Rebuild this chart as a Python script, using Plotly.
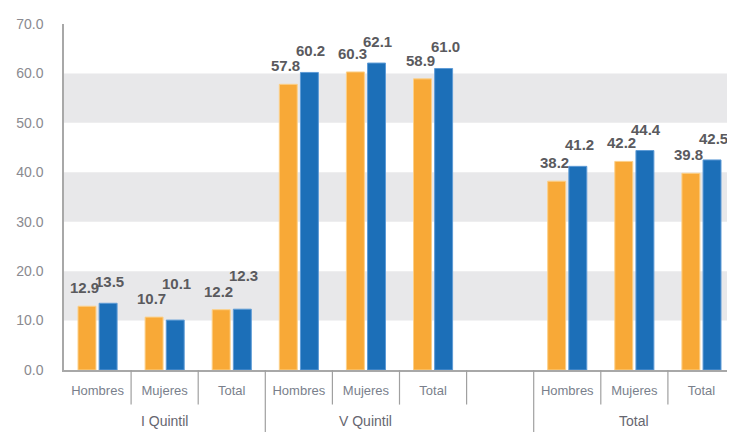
import plotly.graph_objects as go

categories = ["IQ-H", "IQ-M", "IQ-T", "VQ-H", "VQ-M", "VQ-T", "GAP", "T-H", "T-M", "T-T"]
tick_labels = ["Hombres", "Mujeres", "Total", "Hombres", "Mujeres", "Total", "", "Hombres", "Mujeres", "Total"]
groups = ["I Quintil", "V Quintil", "Total"]
group_centers = ["IQ-M", "VQ-M", "T-M"]
series_a = [12.9, 10.7, 12.2, 57.8, 60.3, 58.9, None, 38.2, 42.2, 39.8]
series_b = [13.5, 10.1, 12.3, 60.2, 62.1, 61.0, None, 41.2, 44.4, 42.5]
y_ticks = [0, 10, 20, 30, 40, 50, 60, 70]

ORANGE = "#F8A937"
BLUE = "#1C6FB8"
LABEL = "#5a5a5e"
BODY = 8  # default page margin of the html body

fig = go.Figure()
fig.add_trace(go.Bar(x=categories, y=series_a, marker=dict(color=ORANGE, line=dict(color="#FCD089", width=1)),
                     showlegend=False))
fig.add_trace(go.Bar(x=categories, y=series_b, marker=dict(color=BLUE, line=dict(color="#5E9BD6", width=1)),
                     showlegend=False))

# gray bands
for lo in (10, 30, 50):
    fig.add_shape(type="rect", xref="paper", yref="y", x0=0, x1=1, y0=lo, y1=lo + 10,
                  fillcolor="#E8E8EA", line=dict(width=0), layer="below")

# value labels
lab_font = dict(size=15, color=LABEL, family="Liberation Sans")
for c, a, b in zip(categories, series_a, series_b):
    if a is None:
        continue
    fig.add_annotation(x=c, y=a, text=f"<b>{a:.1f}</b>", showarrow=False, xshift=-13, yshift=8,
                       yanchor="bottom", font=lab_font)
    yb = b if (b - a) >= 0.5 else a + 2.5
    fig.add_annotation(x=c, y=yb, text=f"<b>{b:.1f}</b>", showarrow=False, xshift=12, yshift=11,
                       yanchor="bottom", font=lab_font)

# category separators
short_b = [0.5, 1.5, 3.5, 4.5, 5.5, 7.5, 8.5]
long_b = [2.5, 6.5]
for xb in short_b:
    fig.add_shape(type="line", xref="x", yref="paper", x0=xb, x1=xb, y0=0, y1=-0.1,
                  line=dict(color="#a0a0a0", width=1.2))
for xb in long_b:
    fig.add_shape(type="line", xref="x", yref="paper", x0=xb, x1=xb, y0=0, y1=-0.2,
                  line=dict(color="#a0a0a0", width=1.2))

# group labels
for g, c in zip(groups, group_centers):
    fig.add_annotation(x=c, y=-0.148, xref="x", yref="paper", text=g, showarrow=False,
                       yanchor="middle", font=dict(size=14, color="#666670",
                                                   family="Liberation Sans Narrow, Liberation Sans"))

fig.update_layout(
    width=735, height=432,
    margin=dict(l=63 - BODY, r=BODY, t=20 - BODY, b=62 + BODY),
    plot_bgcolor="white", paper_bgcolor="white",
    barmode="group", bargap=0.37, bargroupgap=0.15,
    font=dict(family="Liberation Sans"),
)
fig.update_xaxes(type="category", categoryorder="array", categoryarray=categories,
                 tickvals=categories, ticktext=tick_labels, range=[-0.5, 9.5],
                 showline=True, linecolor="#a8a8a8", linewidth=1.5, showgrid=False,
                 ticks="outside", ticklen=8, tickcolor="rgba(0,0,0,0)",
                 tickfont=dict(size=13, color="#7a7f8c", family="Liberation Sans Narrow, Liberation Sans"))
fig.update_yaxes(range=[0, 70], tickvals=y_ticks, tickformat=".1f",
                 showline=True, linecolor="#a8a8a8", linewidth=1.5, showgrid=False, zeroline=False,
                 ticks="outside", ticklen=16, tickcolor="rgba(0,0,0,0)",
                 tickfont=dict(size=14, color="#8a8a90", family="Liberation Sans"))

fig.write_html("out.html")
